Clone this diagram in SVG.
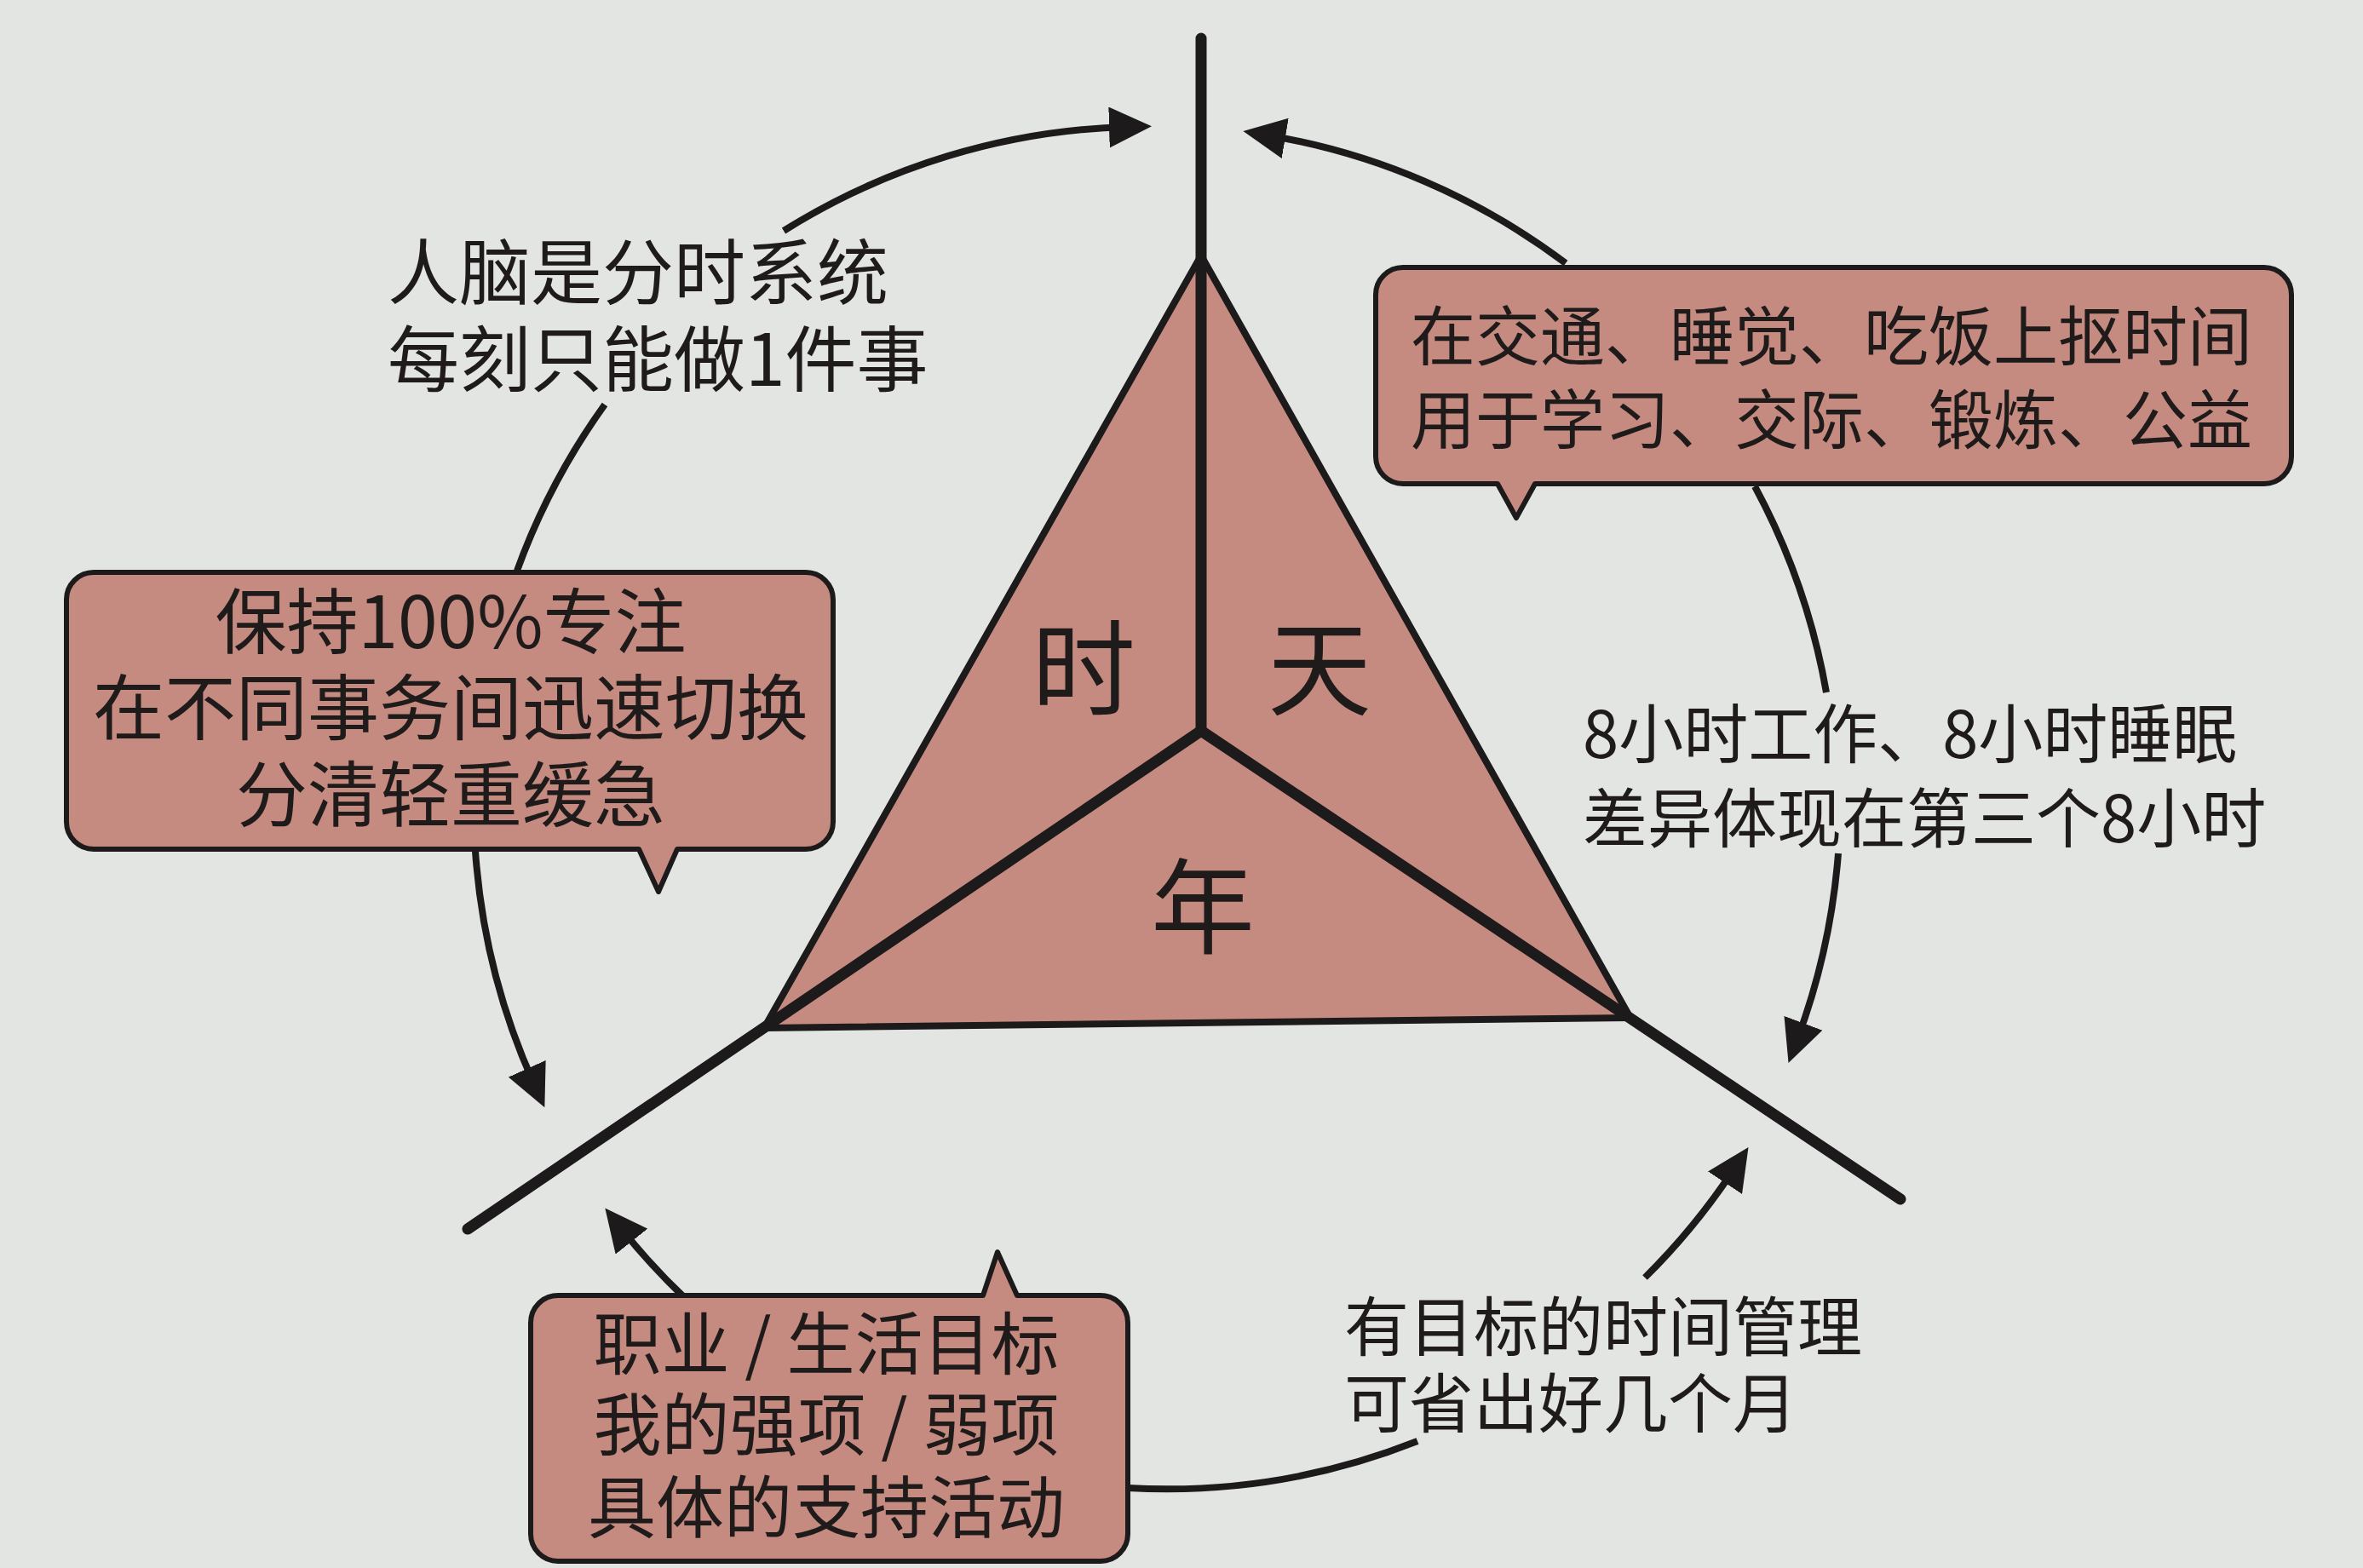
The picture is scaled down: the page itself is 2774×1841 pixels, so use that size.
<svg xmlns="http://www.w3.org/2000/svg" width="2774" height="1841" viewBox="0 0 2774 1841">
<defs>
<style>
.bg{fill:#e3e5e2}
.fillred{fill:#c68b80}
.box{fill:#c68b80;stroke:#1c1a1b;stroke-width:6;stroke-linejoin:round}
.tri{fill:#c68b80;stroke:#1c1a1b;stroke-width:8;stroke-linejoin:round}
.axis{fill:none;stroke:#1c1a1b;stroke-width:13;stroke-linecap:round;stroke-linejoin:round}
.arc{fill:none;stroke:#1c1a1b;stroke-width:8;stroke-linecap:butt}
.t{font-family:"Noto Sans CJK SC","Noto Sans",sans-serif;fill:#1f1b1b}
.t84{font-size:84px}
.t80{font-size:80px}
.t76{font-size:76px}
.big{font-size:122px}
.mid{text-anchor:middle}
</style>
<marker id="ah" viewBox="0 0 50 48" markerWidth="50" markerHeight="48" refX="20" refY="24" orient="auto" markerUnits="userSpaceOnUse">
<path d="M0,0 L50,24 L0,48 Z" fill="#1c1a1b"/>
</marker>
</defs>
<rect class="bg" x="0" y="0" width="2774" height="1841"/>

<g id="triangle">
<polygon class="tri" points="1410,300 897,1207 1914,1195"/>
<path class="axis" d="M1410,45 L1410,858"/>
<path class="axis" d="M549,1443 L1410,858 L2231,1408"/>
<text class="t big mid" x="1272" y="830">时</text>
<text class="t big mid" x="1549" y="830">天</text>
<text class="t big mid" x="1412" y="1110">年</text>
</g>

<g id="connectors">
<path class="arc" marker-end="url(#ah)" d="M920,271 A800,800 0 0 1 1322,149"/>
<path class="arc" d="M710,475 A800,800 0 0 0 607,670"/>
<path class="arc" marker-end="url(#ah)" d="M558,999 A800,800 0 0 0 627,1273"/>
<path class="arc" marker-end="url(#ah)" d="M804,1524 A800,800 0 0 1 729,1442"/>
<path class="arc" d="M1324,1747 A800,800 0 0 0 1664,1692"/>
<path class="arc" marker-end="url(#ah)" d="M1931,1500 A800,800 0 0 0 2036,1372"/>
<path class="arc" marker-end="url(#ah)" d="M2158,1002 A800,800 0 0 1 2110,1220"/>
<path class="arc" d="M2060,571 A800,800 0 0 1 2144,813"/>
<path class="arc" marker-end="url(#ah)" d="M1838,309 A800,800 0 0 0 1489,159"/>
</g>

<g id="node-brain">
<text class="t t84" x="455" y="351">人脑是分时系统</text>
<text class="t t84" x="455" y="453">每刻只能做1件事</text>
</g>

<g id="node-focus">
<path class="box" d="M110,672 H946 A32,32 0 0 1 978,704 V965 A32,32 0 0 1 946,997 H795 L773,1047 L750,997 H110 A32,32 0 0 1 78,965 V704 A32,32 0 0 1 110,672 Z"/>
<text class="t t84 mid" x="529" y="761">保持100%专注</text>
<text class="t t84 mid" x="529" y="862">在不同事务间迅速切换</text>
<text class="t t84 mid" x="529" y="964">分清轻重缓急</text>
</g>

<g id="node-squeeze">
<path class="box" d="M1647,314 H2658 A32,32 0 0 1 2690,346 V536 A32,32 0 0 1 2658,568 H1802 L1780,608 L1758,568 H1647 A32,32 0 0 1 1615,536 V346 A32,32 0 0 1 1647,314 Z"/>
<text class="t t76 mid" x="2150" y="423">在交通、睡觉、吃饭上抠时间</text>
<text class="t t76 mid" x="2150" y="521">用于学习、交际、锻炼、公益</text>
</g>

<g id="node-eight">
<text class="t t76" x="1858" y="890">8小时工作、8小时睡眠</text>
<text class="t t76" x="1858" y="989">差异体现在第三个8小时</text>
</g>

<g id="node-goal">
<text class="t t76" x="1578" y="1586">有目标的时间管理</text>
<text class="t t76" x="1578" y="1676">可省出好几个月</text>
</g>

<g id="node-career">
<path class="box" d="M655,1521 H1154 L1171,1470 L1194,1521 H1292 A32,32 0 0 1 1324,1553 V1801 A32,32 0 0 1 1292,1833 H655 A32,32 0 0 1 623,1801 V1553 A32,32 0 0 1 655,1521 Z"/>
<text class="t t80 mid" x="970" y="1607">职业 / 生活目标</text>
<text class="t t80 mid" x="970" y="1702">我的强项 / 弱项</text>
<text class="t t80 mid" x="970" y="1799">具体的支持活动</text>
</g>
</svg>
